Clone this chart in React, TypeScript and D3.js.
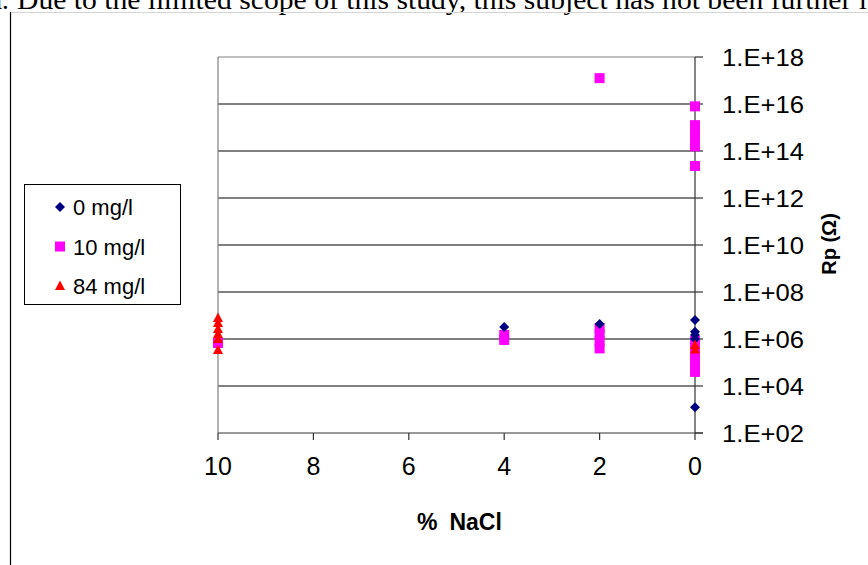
import React from "react";
import * as d3 from "d3";

const W = 868;
const H = 565;

// log10(Rp) values
const nacl0 = [4, 2, 0, 0, 0, 0, 0];
const rp0Log = [6.51, 6.64, 6.81, 6.31, 6.17, 6.0, 3.1];

const nacl10 = [10, 4, 4, 2, 2, 2, 2, 2, 0, 0, 0, 0, 0, 0, 0, 0, 0, 0, 0, 0, 0, 0, 0];
const rp10Log = [5.83, 6.17, 5.96, 17.1, 6.47, 6.2, 5.9, 5.6, 15.9, 15.1, 14.85, 14.6, 14.2, 13.36, 5.91, 5.74, 5.53, 5.32, 5.11, 4.89, 4.68, 4.6, 5.2];

const nacl84 = [10, 10, 10, 10, 10, 10, 0, 0];
const rp84Log = [6.89, 6.68, 6.43, 6.21, 6.0, 5.53, 5.74, 5.55];

const yTicks = [1e2, 1e4, 1e6, 1e8, 1e10, 1e12, 1e14, 1e16, 1e18];
const yTickLabels = ["1.E+02", "1.E+04", "1.E+06", "1.E+08", "1.E+10", "1.E+12", "1.E+14", "1.E+16", "1.E+18"];
const xTicks = [10, 8, 6, 4, 2, 0];
const legendLabels = ["0 mg/l", "10 mg/l", "84 mg/l"];

export default function App() {
  const left = 218, right = 695, top = 57, bottom = 433;
  const x = d3.scaleLinear().domain([10, 0]).range([left, right]);
  const y = d3.scaleLog().domain([1e2, 1e18]).range([bottom, top]);
  const sans = "'Liberation Sans', Arial, sans-serif";

  const diamond = (cx: number, cy: number, k: number) => (
    <path key={k} d={`M${cx},${cy - 5}L${cx + 5},${cy}L${cx},${cy + 5}L${cx - 5},${cy}Z`} fill="#000080" />
  );
  const square = (cx: number, cy: number, k: number) => (
    <rect key={k} x={cx - 5} y={cy - 5} width={10} height={10} fill="#FF00FF" />
  );
  const tri = (cx: number, cy: number, k: number) => (
    <path key={k} d={`M${cx},${cy - 5.5}L${cx + 5},${cy + 4}L${cx - 5},${cy + 4}Z`} fill="#FF0000" />
  );

  return (
    <svg width={W} height={H} style={{ position: "absolute", left: 0, top: 0, background: "#fff" }}>
      <rect x={0} y={0} width={W} height={H} fill="#fff" />
      <text y={9} fontFamily="'Liberation Serif', 'DejaVu Serif', serif" fontSize={27} fill="#000">
        <tspan x={-10}>a.</tspan>
        <tspan x={17} textLength={850} lengthAdjust="spacingAndGlyphs">Due to the limited scope of this study, this subject has not been further i</tspan>
      </text>
      <line x1={10} x2={W} y1={12.5} y2={12.5} stroke="#d4d4d4" strokeWidth={1} />
      <line x1={10.5} x2={10.5} y1={12} y2={H} stroke="#000" strokeWidth={1.2} />

      {/* gridlines */}
      {yTicks.slice(1, -1).map((t, i) => (
        <line key={i} x1={left} x2={right} y1={y(t)} y2={y(t)} stroke="#000" strokeWidth={1} />
      ))}
      {/* border top/left gray */}
      <line x1={left} x2={right} y1={top} y2={top} stroke="#808080" strokeWidth={1.2} />
      <line x1={left} x2={left} y1={top} y2={bottom} stroke="#808080" strokeWidth={1.2} />
      {/* x axis */}
      <line x1={left} x2={right + 8} y1={bottom} y2={bottom} stroke="#333" strokeWidth={1.2} />
      {xTicks.map((t, i) => (
        <g key={i}>
          <line x1={x(t)} x2={x(t)} y1={bottom} y2={bottom + 7} stroke="#333" strokeWidth={1.2} />
          <text x={x(t)} y={bottom + 42} textAnchor="middle" fontFamily={sans} fontSize={25} fill="#000">{t}</text>
        </g>
      ))}
      {/* y axis right */}
      <line x1={right} x2={right} y1={top} y2={bottom} stroke="#333" strokeWidth={1.2} />
      {yTicks.map((t, i) => (
        <g key={i}>
          <line x1={right} x2={right + 8} y1={y(t)} y2={y(t)} stroke="#333" strokeWidth={1.2} />
          <text x={722} y={y(t) + 8.5} fontFamily={sans} fontSize={24} textLength={82} lengthAdjust="spacingAndGlyphs" fill="#000">{yTickLabels[i]}</text>
        </g>
      ))}
      <text transform={`translate(836,${(top + bottom) / 2 - 1}) rotate(-90)`} textAnchor="middle" fontFamily={sans} fontSize={20} fontWeight="bold" fill="#000">Rp (Ω)</text>
      <text x={417} y={530} fontFamily={sans} fontSize={23} fontWeight="bold" fill="#000">
        <tspan>%</tspan>
        <tspan dx={12}>NaCl</tspan>
      </text>

      {/* data */}
      {nacl10.map((v, i) => square(x(v), y(Math.pow(10, rp10Log[i])), i))}
      {nacl0.map((v, i) => diamond(x(v), y(Math.pow(10, rp0Log[i])), i))}
      {nacl84.map((v, i) => tri(x(v), y(Math.pow(10, rp84Log[i])), i))}

      {/* legend */}
      <rect x={24.5} y={184.5} width={156} height={120} fill="#fff" stroke="#000" strokeWidth={1} />
      {legendLabels.map((l, i) => {
        const cy = 207 + i * 39.5;
        return (
          <g key={i}>
            {i === 0 ? diamond(60, cy, 0) : i === 1 ? <rect x={55} y={cy - 5} width={10} height={10} fill="#FF00FF" /> : tri(60, cy, 2)}
            <text x={73} y={cy + 8} fontFamily={sans} fontSize={22} fill="#000">{l}</text>
          </g>
        );
      })}
    </svg>
  );
}
